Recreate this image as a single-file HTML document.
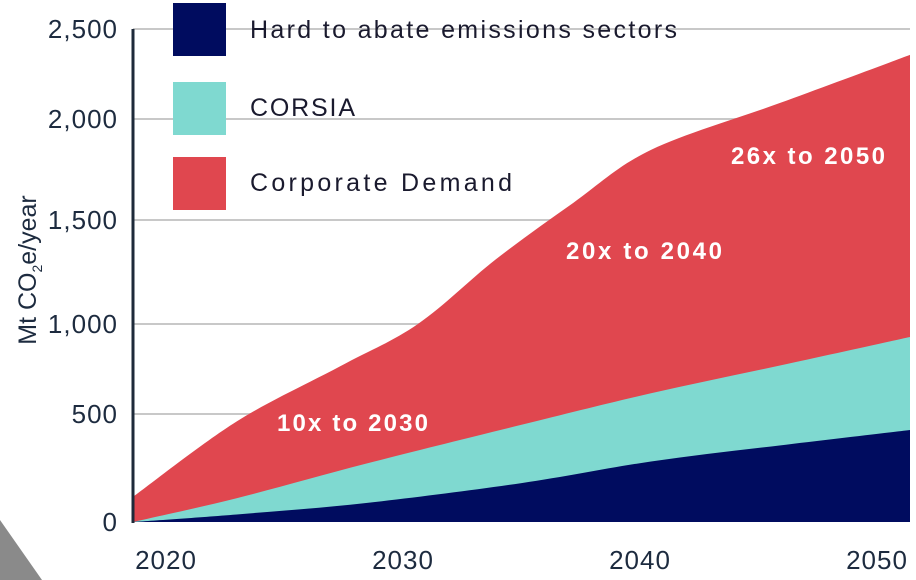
<!DOCTYPE html>
<html><head><meta charset="utf-8"><style>
body{margin:0;background:#fff;width:916px;height:580px;overflow:hidden}
svg{display:block;font-family:"Liberation Sans",sans-serif}
</style></head><body>
<svg id="chart" width="916" height="580">
<polygon points="0,520 0,580 42,580" fill="#8a8a8a"/>
<g id="grid"></g><g id="areas"></g><g id="axes"></g>
<text transform="translate(36,270) rotate(-90)" text-anchor="middle" font-size="25" fill="#1d2b3f">Mt CO<tspan font-size="14" dy="6">2</tspan><tspan dy="-6">e/year</tspan></text>
<g>
<rect x="173" y="3" width="53" height="53" fill="#000c5f"/>
<text x="250" y="38" font-size="25" textLength="427" fill="#1a1a2e">Hard to abate emissions sectors</text>
<rect x="173" y="82" width="53" height="53" fill="#7fd9d0"/>
<text x="250" y="116" font-size="25" textLength="105" fill="#1a1a2e">CORSIA</text>
<rect x="173" y="157" width="53" height="53" fill="#e0474f"/>
<text x="250" y="191" font-size="25" textLength="262" fill="#1a1a2e">Corporate Demand</text>
</g>
<g font-size="24" font-weight="bold" fill="#fff">
<text x="277" y="431" textLength="151">10x to 2030</text>
<text x="566" y="259" textLength="156">20x to 2040</text>
<text x="731" y="164" textLength="154">26x to 2050</text>
</g>
</svg>
<script>
const years=[2020,2024,2029,2035,2040,2045,2050];
const hardToAbate=[0,35,88,180,280,355,426];
const corsiaTop=[0,110,270,450,615,770,928];
const totalYears=[2020,2024,2028,2031,2034,2037,2040,2045,2050];
const totalTop=[116,465,765,1000,1310,1585,1847,2090,2356];
const yTicks=[0,500,1000,1500,2000,2500];
const yTickLabels=["0","500","1,000","1,500","2,000","2,500"];
const xTicks=[2020,2030,2040,2050];
const gridPx=[522,414,324,220,119,29];
const NS="http://www.w3.org/2000/svg";
function yS(v){for(let i=0;i<yTicks.length-1;i++){if(v<=yTicks[i+1]||i==yTicks.length-2){const t=(v-yTicks[i])/(yTicks[i+1]-yTicks[i]);return gridPx[i]+t*(gridPx[i+1]-gridPx[i]);}}}
function xS(y){return 133+(y-2020)*(910-133)/30;}
function xL(y){return 166+(y-2020)*23.7;}
function mk(tag,attrs,parent){const e=document.createElementNS(NS,tag);for(const k in attrs)e.setAttribute(k,attrs[k]);parent.appendChild(e);return e;}
function curve(xs,vs){const p=xs.map((x,i)=>[xS(x),yS(vs[i])]);let d="";for(let i=0;i<p.length-1;i++){const p0=p[i-1]||p[i],p1=p[i],p2=p[i+1],p3=p[i+2]||p[i+1];const c1=[p1[0]+(p2[0]-p0[0])/6,p1[1]+(p2[1]-p0[1])/6],c2=[p2[0]-(p3[0]-p1[0])/6,p2[1]-(p3[1]-p1[1])/6];d+=` C${c1[0]},${c1[1]} ${c2[0]},${c2[1]} ${p2[0]},${p2[1]}`;}return {start:p[0],d};}
function area(xs,vs,fill,name){const c=curve(xs,vs);const d=`M${xS(xs[0])},${yS(0)} L${c.start[0]},${c.start[1]}${c.d} L${xS(xs[xs.length-1])},${yS(0)} Z`;const e=mk("path",{d,fill},document.getElementById("areas"));

}
const g=document.getElementById("grid"),ax=document.getElementById("axes");
yTicks.forEach((v,i)=>{if(v>0){const l=mk("line",{x1:133,x2:910,y1:yS(v),y2:yS(v),stroke:"#c8c8c8","stroke-width":2},g);

}
const t=mk("text",{x:118,y:yS(v)+9,"text-anchor":"end","font-size":26,"letter-spacing":1,fill:"#1d2b3f"},ax);t.textContent=yTickLabels[i];

});
area(totalYears,totalTop,"#e0474f","area-corporate-demand");
area(years,corsiaTop,"#7fd9d0","area-corsia");
area(years,hardToAbate,"#000c5f","area-hard-to-abate");
const a=mk("line",{x1:133,x2:133,y1:29,y2:523,stroke:"#1e2a3a","stroke-width":3},ax);


xTicks.forEach(y=>{const t=mk("text",{x:xL(y),y:569,"text-anchor":"middle","font-size":26,"letter-spacing":1,fill:"#1d2b3f"},ax);t.textContent=y;

});
</script>
</body></html>
